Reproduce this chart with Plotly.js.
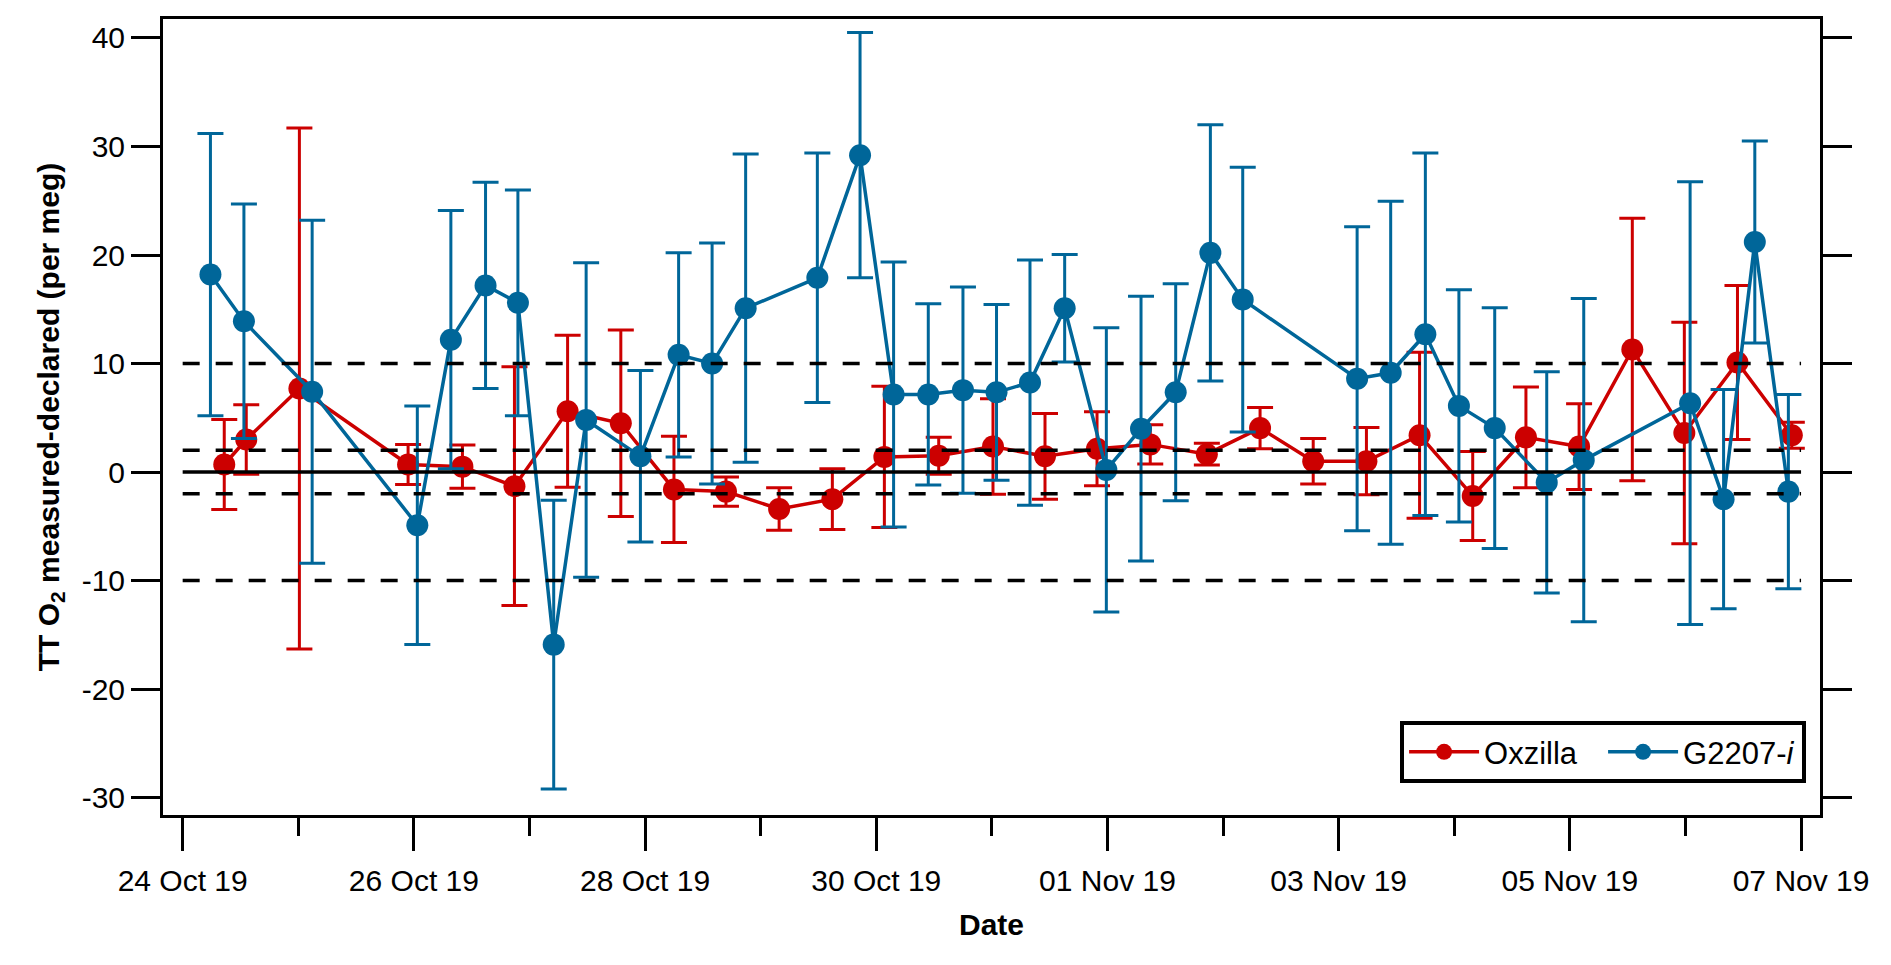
<!DOCTYPE html>
<html>
<head>
<meta charset="utf-8">
<script src="https://cdn.plot.ly/plotly-3.0.1.min.js"></script>
<style>
  body { margin: 0; background: white; }
  #myDiv { width: 1891px; height: 965px; }
</style>
</head>
<body>
<div id="myDiv"></div>
<script>
// Oxzilla (red)
var oxzilla_dates = ['2019-10-24 08:38', '2019-10-24 13:12', '2019-10-25 00:14', '2019-10-25 22:48', '2019-10-26 10:05',
    '2019-10-26 20:53', '2019-10-27 07:55', '2019-10-27 18:58', '2019-10-28 06:00', '2019-10-28 16:48',
    '2019-10-29 03:50', '2019-10-29 14:53', '2019-10-30 01:41', '2019-10-30 12:58', '2019-10-31 00:14',
    '2019-10-31 11:02', '2019-10-31 21:50', '2019-11-01 08:53', '2019-11-01 20:38', '2019-11-02 07:41',
    '2019-11-02 18:43', '2019-11-03 05:46', '2019-11-03 16:48', '2019-11-04 03:50', '2019-11-04 14:53',
    '2019-11-05 01:55', '2019-11-05 12:58', '2019-11-05 23:46', '2019-11-06 10:48', '2019-11-06 22:05'];
var oxzilla_values = [0.7, 3.0, 7.7, 0.7, 0.5, -1.3, 5.6, 4.5, -1.6, -1.8,
    -3.4, -2.5, 1.4, 1.5, 2.35, 1.45, 2.15, 2.55, 1.65, 4.05,
    1.0, 1.0, 3.4, -2.2, 3.2, 2.35, 11.3, 3.6, 10.1, 3.4];
var oxzilla_err = [4.15, 3.2, 24.0, 1.85, 2.0, 11.0, 7.0, 8.6, 4.9, 1.35,
    1.95, 2.8, 6.5, 1.7, 4.4, 3.95, 3.4, 1.8, 1.0, 1.9,
    2.1, 3.1, 7.65, 4.1, 4.65, 3.95, 12.1, 10.2, 7.1, 1.2];

// G2207-i (blue)
var g2207_dates = ['2019-10-24 05:46', '2019-10-24 12:43', '2019-10-25 02:53', '2019-10-26 00:43', '2019-10-26 07:41',
    '2019-10-26 14:53', '2019-10-26 21:36', '2019-10-27 05:02', '2019-10-27 11:46', '2019-10-27 23:02',
    '2019-10-28 06:58', '2019-10-28 13:55', '2019-10-28 20:53', '2019-10-29 11:46', '2019-10-29 20:38',
    '2019-10-30 03:36', '2019-10-30 10:48', '2019-10-30 18:00', '2019-10-31 00:58', '2019-10-31 07:55',
    '2019-10-31 15:07', '2019-10-31 23:46', '2019-11-01 06:58', '2019-11-01 14:10', '2019-11-01 21:22',
    '2019-11-02 04:05', '2019-11-03 03:50', '2019-11-03 10:48', '2019-11-03 18:00', '2019-11-04 00:58',
    '2019-11-04 08:24', '2019-11-04 19:12', '2019-11-05 02:53', '2019-11-06 00:58', '2019-11-06 07:55',
    '2019-11-06 14:24', '2019-11-06 21:22'];
var g2207_values = [18.2, 13.9, 7.4, -4.9, 12.2, 17.2, 15.6, -15.9, 4.8, 1.45,
    10.8, 10.0, 15.1, 17.9, 29.2, 7.15, 7.15, 7.55, 7.35, 8.25,
    15.1, 0.2, 4.0, 7.35, 20.2, 15.9, 8.6, 9.15, 12.7, 6.1,
    4.05, -0.95, 1.1, 6.35, -2.5, 21.2, -1.8];
var g2207_err = [13.0, 10.8, 15.8, 11.0, 11.9, 9.5, 10.4, 13.3, 14.5, 7.9,
    9.4, 11.1, 14.2, 11.5, 11.3, 12.2, 8.35, 9.5, 8.1, 11.3,
    4.95, 13.1, 12.2, 10.0, 11.8, 12.2, 14.0, 15.8, 16.7, 10.7,
    11.1, 10.2, 14.9, 20.4, 10.1, 9.3, 8.95];

// y ticks (hyphen minus like the original)
var y_tickvals = [-30, -20, -10, 0, 10, 20, 30, 40];
var y_ticktext = ['-30', '-20', '-10', '0', '10', '20', '30', '40'];

// reference levels
var dashed_levels = [-10, -2, 2, 10];
var ref_start = '2019-10-24 00:00';
var ref_end = '2019-11-07 00:00';

var red = 'rgb(204,0,0)';
var blue = 'rgb(0,102,153)';
var fontFamily = 'Liberation Sans, Arial, sans-serif';

var oxzilla = {
    x: oxzilla_dates,
    y: oxzilla_values,
    name: 'Oxzilla',
    type: 'scatter',
    mode: 'lines+markers',
    line: {color: red, width: 3.5},
    marker: {color: red, size: 22},
    error_y: {type: 'data', array: oxzilla_err, visible: true, color: red, thickness: 3, width: 13}
};

var g2207 = {
    x: g2207_dates,
    y: g2207_values,
    name: 'G2207-<i>i</i>',
    type: 'scatter',
    mode: 'lines+markers',
    line: {color: blue, width: 3.5},
    marker: {color: blue, size: 22},
    error_y: {type: 'data', array: g2207_err, visible: true, color: blue, thickness: 3, width: 13}
};

var shapes = [];
for (var i = 0; i < dashed_levels.length; i++) {
    shapes.push({
        type: 'line', xref: 'x', yref: 'y', layer: 'above',
        x0: ref_start, x1: ref_end, y0: dashed_levels[i], y1: dashed_levels[i],
        line: {color: 'black', width: 3.5, dash: '17px,16px'}
    });
}
shapes.push({
    type: 'line', xref: 'x', yref: 'y', layer: 'above',
    x0: ref_start, x1: ref_end, y0: 0, y1: 0,
    line: {color: 'black', width: 3.5}
});

var layout = {
    width: 1891,
    height: 965,
    margin: {l: 163, r: 71, t: 19, b: 150},
    paper_bgcolor: 'white',
    plot_bgcolor: 'white',
    font: {family: fontFamily, size: 30, color: 'black'},
    showlegend: true,
    legend: {
        orientation: 'h',
        x: 0.9916, xanchor: 'right',
        y: 0.04, yanchor: 'bottom',
        bgcolor: 'white',
        bordercolor: 'black',
        borderwidth: 4,
        itemwidth: 70,
        entrywidth: 114,
        font: {family: fontFamily, size: 31}
    },
    xaxis: {
        type: 'date',
        range: ['2019-10-23 19:55', '2019-11-07 03:56'],
        tick0: '2019-10-24',
        dtick: 2 * 86400000,
        tickformat: '%d %b %y',
        ticks: 'outside',
        ticklen: 33,
        tickwidth: 3,
        tickcolor: 'black',
        minor: {dtick: 86400000, ticks: 'outside', ticklen: 18, tickwidth: 3, tickcolor: 'black', showgrid: false},
        showgrid: false,
        zeroline: false,
        showline: true,
        linewidth: 3,
        linecolor: 'black',
        mirror: true,
        tickfont: {size: 30},
        ticklabelstandoff: 4,
        title: {text: 'Date', font: {size: 30, weight: 'bold'}, standoff: 18}
    },
    yaxis: {
        range: [-31.6, 41.75],
        tickvals: y_tickvals,
        ticktext: y_ticktext,
        ticks: 'outside',
        ticklen: 29,
        tickwidth: 3,
        tickcolor: 'black',
        showgrid: false,
        zeroline: false,
        showline: true,
        linewidth: 3,
        linecolor: 'black',
        mirror: 'ticks',
        tickfont: {size: 30},
        title: {text: 'TT O<sub>2</sub> measured-declared (per meg)', font: {size: 30, weight: 'bold'}, standoff: 14}
    },
    shapes: shapes
};

Plotly.newPlot('myDiv', [oxzilla, g2207], layout, {displayModeBar: false, staticPlot: true});
</script>
</body>
</html>
